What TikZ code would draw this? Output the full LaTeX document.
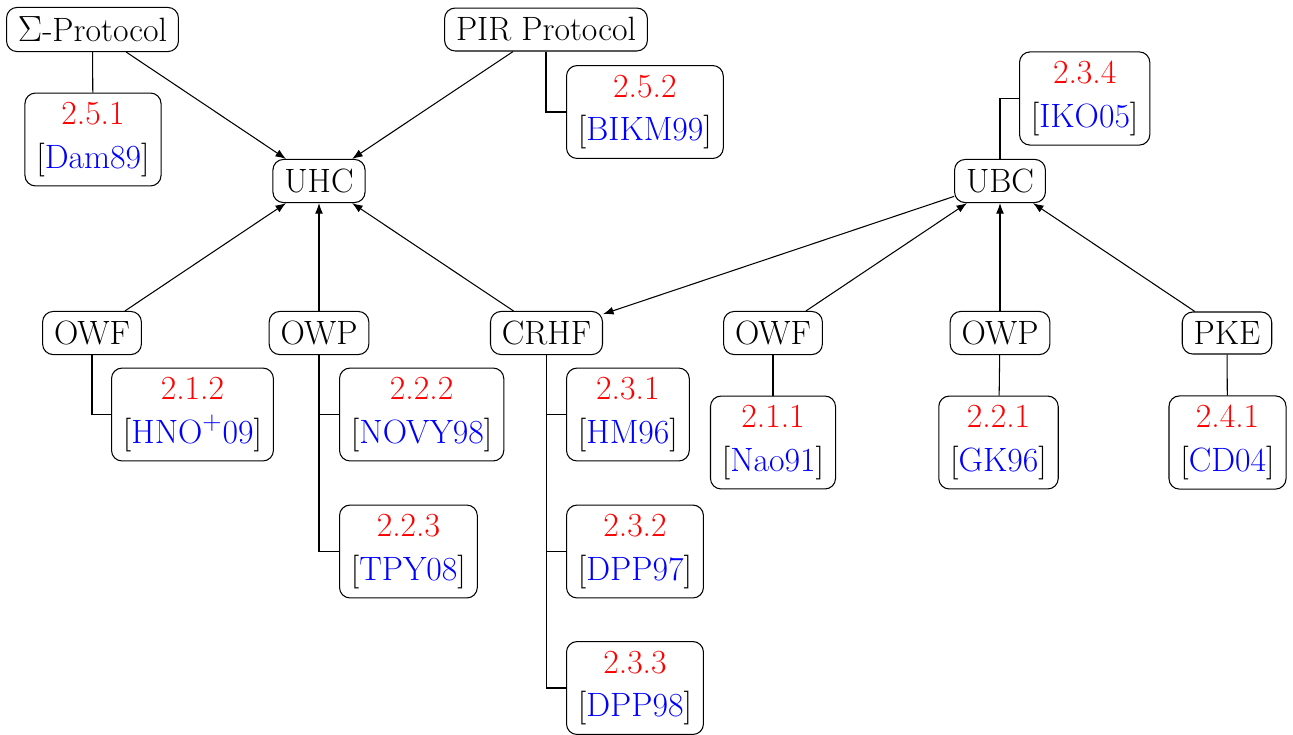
\documentclass[tikz,border=0pt]{standalone}
\usepackage{tikz}
\usetikzlibrary{arrows.meta}

\newcommand{\secref}[2]{\textcolor{red}{#1}\\{[}\textcolor{blue}{#2}{]}}

\begin{document}
\begin{tikzpicture}[
    box/.style={draw,rounded corners=6pt,font=\fontsize{19.2}{24.6}\selectfont,
      inner xsep=6.5pt,inner ysep=5.4pt,line width=0.6pt},
    refbox/.style={box,align=center},
    imp/.style={-{Latex[length=6pt,width=4.5pt]},line width=0.6pt},
    lnk/.style={line width=0.6pt}]
  \useasboundingbox (0,0) rectangle (25.86,-14.68);

  % primitives on top
  \node[box] (sigma) at (1.85,-0.59) {$\Sigma$-Protocol};
  \node[box] (pir) at (10.92,-0.59) {PIR Protocol};
  \node[box] (uhc) at (6.38,-3.62) {UHC};
  \node[box] (ubc) at (20.0,-3.62) {UBC};

  % assumptions
  \node[box] (owfa) at (1.84,-6.66) {OWF};
  \node[box] (owpa) at (6.38,-6.66) {OWP};
  \node[box] (crhf) at (10.93,-6.66) {CRHF};
  \node[box] (owfb) at (15.46,-6.66) {OWF};
  \node[box] (owpb) at (20.0,-6.66) {OWP};
  \node[box] (pke) at (24.54,-6.66) {PKE};

  % sections and references
  \node[refbox] (r251) at (1.86,-2.79) {\secref{2.5.1}{Dam89}};
  \node[refbox,anchor=west] (r252) at (11.32,-2.24) {\secref{2.5.2}{BIKM99}};
  \node[refbox,anchor=west] (r234) at (20.38,-1.97) {\secref{2.3.4}{IKO05}};
  \node[refbox,anchor=west] (r212) at (2.22,-8.29) {\secref{2.1.2}{HNO$^+$09}};
  \node[refbox,anchor=west] (r222) at (6.78,-8.29) {\secref{2.2.2}{NOVY98}};
  \node[refbox,anchor=west] (r223) at (6.78,-11.03) {\secref{2.2.3}{TPY08}};
  \node[refbox,anchor=west] (r231) at (11.32,-8.29) {\secref{2.3.1}{HM96}};
  \node[refbox,anchor=west] (r232) at (11.32,-11.03) {\secref{2.3.2}{DPP97}};
  \node[refbox,anchor=west] (r233) at (11.32,-13.76) {\secref{2.3.3}{DPP98}};
  \node[refbox] (r211) at (15.46,-8.85) {\secref{2.1.1}{Nao91}};
  \node[refbox] (r221) at (19.97,-8.85) {\secref{2.2.1}{GK96}};
  \node[refbox] (r241) at (24.55,-8.85) {\secref{2.4.1}{CD04}};

  % implications
  \draw[imp] (sigma) -- (uhc);
  \draw[imp] (pir) -- (uhc);
  \draw[imp] (owfa) -- (uhc);
  \draw[imp] (owpa) -- (uhc);
  \draw[imp] (crhf) -- (uhc);
  \draw[imp] (ubc) -- (crhf);
  \draw[imp] (owfb) -- (ubc);
  \draw[imp] (owpb) -- (ubc);
  \draw[imp] (pke) -- (ubc);

  % links to sections
  \draw[lnk] (sigma) -- (r251);
  \draw[lnk] (pir) |- (r252.west);
  \draw[lnk] (ubc) |- (r234.west);
  \draw[lnk] (owfa) |- (r212.west);
  \draw[lnk] (owpa) |- (r222.west);
  \draw[lnk] (owpa) |- (r223.west);
  \draw[lnk] (crhf) |- (r231.west);
  \draw[lnk] (crhf) |- (r232.west);
  \draw[lnk] (crhf) |- (r233.west);
  \draw[lnk] (owfb) -- (r211);
  \draw[lnk] (owpb) -- (r221);
  \draw[lnk] (pke) -- (r241);
\end{tikzpicture}
\end{document}
